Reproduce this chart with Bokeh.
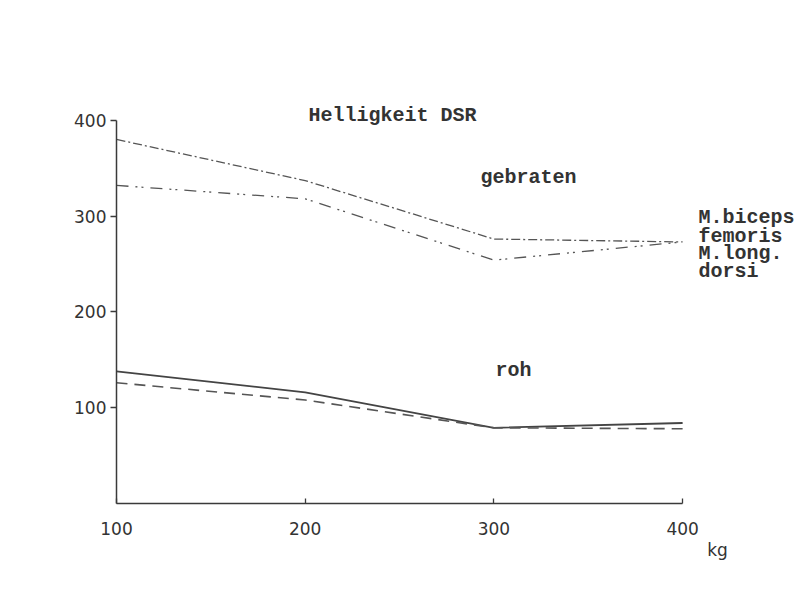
from bokeh.plotting import figure
from bokeh.models import Range1d, Label, FixedTicker, LinearAxis
from bokeh.embed import file_html
from bokeh.resources import INLINE

# Data (Helligkeit DSR vs. Gewicht in kg)
gewicht = [100, 200, 300, 400]
gebraten_biceps = [380, 337, 276, 273]
gebraten_dorsi = [332, 318, 254, 273]
roh_biceps = [138, 116, 79, 84]
roh_dorsi = [126, 108, 79, 78]
y_ticks = [100, 200, 300, 400]
x_ticks = [100, 200, 300, 400]
unit_pos = 418.5
unit_label = "kg"

p = figure(frame_width=685, frame_height=412,
           x_range=Range1d(100, 463), y_range=Range1d(0, 430),
           output_backend="svg", toolbar_location=None,
           min_border_left=116, min_border_right=2,
           min_border_top=91, min_border_bottom=95)
p.outline_line_color = None
p.xgrid.visible = False
p.ygrid.visible = False
p.background_fill_color = "white"
p.border_fill_color = "white"

ink = "#3a3a3a"
for ax in (p.xaxis[0], p.yaxis[0]):
    ax.axis_line_color = ink
    ax.axis_line_width = 1.5
    ax.major_tick_line_color = ink
    ax.major_tick_line_width = 1.3
    ax.minor_tick_line_color = None
    ax.major_label_text_font = "DejaVu Sans"
    ax.major_label_text_font_size = "17px"
    ax.major_label_text_color = "#333333"

p.xaxis.ticker = FixedTicker(ticks=x_ticks)
p.yaxis.ticker = FixedTicker(ticks=y_ticks)
p.xaxis.bounds = (100, 400)
p.yaxis.bounds = (0, 400)
p.xaxis.major_tick_in = 5
p.xaxis.major_tick_out = 0
p.xaxis.major_label_standoff = 18
p.yaxis.major_tick_in = 0
p.yaxis.major_tick_out = 6
p.yaxis.major_label_standoff = 4

# unit label on its own axis below
kg_axis = LinearAxis(ticker=FixedTicker(ticks=[unit_pos]),
                     major_label_overrides={unit_pos: unit_label},
                     axis_line_color=None, major_tick_line_color=None,
                     minor_tick_line_color=None,
                     major_tick_in=0, major_tick_out=0,
                     major_label_standoff=2,
                     major_label_text_font="DejaVu Sans",
                     major_label_text_font_size="17px",
                     major_label_text_color="#333333")
p.add_layout(kg_axis, "below")

# gebraten
p.line(gewicht, gebraten_biceps, line_color="#555555", line_width=1.3,
       line_dash="9 3 2 3")
p.line(gewicht, gebraten_dorsi, line_color="#555555", line_width=1.3,
       line_dash="12 7 2 4 2 7")
# roh
p.line(gewicht, roh_biceps, line_color="#444444", line_width=1.8)
p.line(gewicht, roh_dorsi, line_color="#555555", line_width=1.6,
       line_dash="11 7")

mono = "Liberation Mono"
def lab(x, y, t, size="20px"):
    p.add_layout(Label(x=x, y=y, text=t, text_font=mono,
                       text_font_style="bold", text_font_size=size,
                       text_color="#333333", text_baseline="middle",
                       text_align="left"))

lab(201.7, 405, "Helligkeit DSR")
lab(292.9, 340.5, "gebraten")
lab(300.8, 138.9, "roh")
lab(408.4, 298.7, "M.biceps")
lab(408.4, 279.0, "femoris")
lab(408.4, 261.1, "M.long.")
lab(408.4, 242.3, "dorsi")

open("out.html", "w").write(file_html(p, INLINE))
